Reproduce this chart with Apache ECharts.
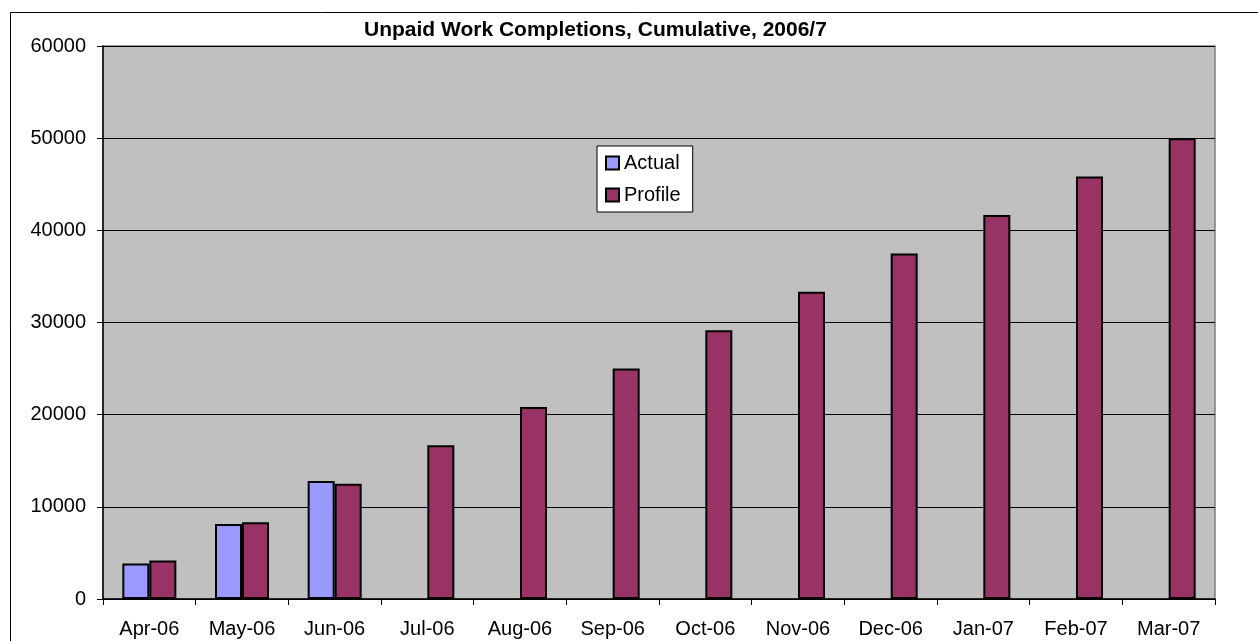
<!DOCTYPE html>
<html>
<head>
<meta charset="utf-8">
<script src="https://cdn.jsdelivr.net/npm/echarts@6/dist/echarts.min.js"></script>
<style>
  html, body { margin: 0; padding: 0; background: #fff; }
  #chart { width: 1258px; height: 641px; }
</style>
</head>
<body>
<div id="chart"></div>
<script>
var months = ['Apr-06', 'May-06', 'Jun-06', 'Jul-06', 'Aug-06', 'Sep-06',
              'Oct-06', 'Nov-06', 'Dec-06', 'Jan-07', 'Feb-07', 'Mar-07'];
var actual = [3850, 8150, 12800, null, null, null, null, null, null, null, null, null];
var profile = [4170, 8330, 12500, 16670, 20830, 25000, 29170, 33330, 37500, 41670, 45830, 50000];
var yTicks = [0, 10000, 20000, 30000, 40000, 50000, 60000];

var font = 'Arial, "Liberation Sans", sans-serif';
var myChart = echarts.init(document.getElementById('chart'));

var option = {
    animation: false,
    backgroundColor: '#fff',
    title: {
        text: 'Unpaid Work Completions, Cumulative, 2006/7',
        left: 364,
        top: 18,
        padding: 0,
        textStyle: { fontFamily: font, fontSize: 21, lineHeight: 24, fontWeight: 'bold', color: '#000' }
    },
    graphic: [
        {
            type: 'rect',
            left: 8, top: 10,
            shape: { width: 1300, height: 700 },
            style: { fill: 'none', stroke: '#000', lineWidth: 1 },
            silent: true
        }
    ],
    legend: {
        data: ['Actual', 'Profile'],
        orient: 'vertical',
        icon: 'rect',
        left: 597,
        top: 146,
        padding: [7, 12, 7, 8],
        itemGap: 12,
        itemWidth: 13,
        itemHeight: 13,
        backgroundColor: '#fff',
        borderColor: '#000',
        borderWidth: 1,
        borderRadius: 0,
        textStyle: { fontFamily: font, fontSize: 20, lineHeight: 20, color: '#000' }
    },
    grid: {
        left: 103,
        right: 43,
        top: 46,
        bottom: 42,
        show: true,
        backgroundColor: '#c0c0c0',
        borderColor: '#808080',
        borderWidth: 1.5
    },
    xAxis: {
        type: 'category',
        data: months,
        boundaryGap: true,
        axisLine: { lineStyle: { color: '#000', width: 1.5 } },
        axisTick: { show: true, length: 6, alignWithLabel: false, lineStyle: { color: '#000' } },
        axisLabel: { fontFamily: font, fontSize: 20, lineHeight: 20, color: '#000', margin: 20, interval: 0 },
        splitLine: { show: false }
    },
    yAxis: {
        type: 'value',
        min: yTicks[0],
        max: yTicks[yTicks.length - 1],
        interval: 10000,
        axisLine: { show: true, lineStyle: { color: '#000', width: 1.5 } },
        axisTick: { show: true, length: 6, lineStyle: { color: '#000' } },
        axisLabel: {
            fontFamily: font, fontSize: 20, color: '#000', margin: 17,
            formatter: function (v) { return String(v); }
        },
        splitLine: { show: true, lineStyle: { color: '#000', width: 1 } }
    },
    series: [
        {
            name: 'Actual',
            type: 'bar',
            data: actual,
            barWidth: 27,
            barGap: '0%',
            itemStyle: { color: '#9999ff', borderColor: '#000', borderWidth: 2 }
        },
        {
            name: 'Profile',
            type: 'bar',
            data: profile,
            barWidth: 27,
            barGap: '0%',
            itemStyle: { color: '#993366', borderColor: '#000', borderWidth: 2 }
        }
    ]
};

myChart.setOption(option);
</script>
</body>
</html>
